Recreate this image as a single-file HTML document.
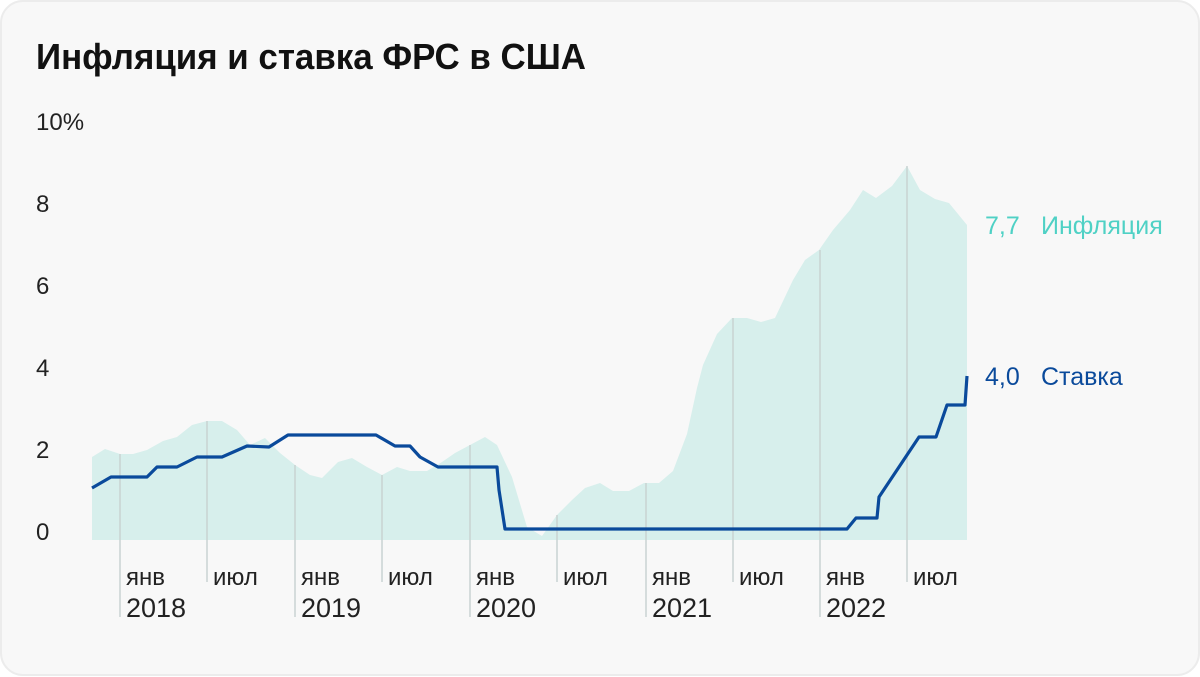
<!DOCTYPE html>
<html><head><meta charset="utf-8"><style>
body{margin:0;width:1200px;height:677px;background:#fff;overflow:hidden}
svg{display:block}
text{font-family:"Liberation Sans",sans-serif}
</style></head><body>
<svg width="1200" height="677" viewBox="0 0 1200 677">
<rect x="1" y="1" width="1198" height="674" rx="22" fill="#f8f8f8" stroke="#ececec" stroke-width="2"/>
<text x="36" y="69" font-size="36" font-weight="bold" fill="#111" textLength="550" lengthAdjust="spacingAndGlyphs">Инфляция и ставка ФРС в США</text>
<g font-size="24" fill="#222">
<text x="36" y="130">10%</text>
<text x="36" y="212">8</text>
<text x="36" y="294">6</text>
<text x="36" y="376">4</text>
<text x="36" y="458">2</text>
<text x="36" y="540">0</text>
</g>
<polygon fill="#d7efec" points="92,457 105,449 120,454 133,454 147,450 163,441 177,437 192,425 207,421 222,421 237,430 250,445 265,438 280,453 295,465 310,475 322,478 338,462 352,458 367,467 382,475 397,467 410,471 427,471 442,462 455,453 470,445 485,437 497,445 512,477 527,527 542,536 557,515 572,500 585,488 600,483 613,491 629,491 644,483 659,483 673,471 687,434 697,388 703,365 717,334 732,318 747,318 761,322 775,318 793,280 805,260 819,250 833,230 850,210 863,190 876,198 892,186 907,166 920,190 935,199 949,203 967,225 967,540 92,540"/>
<g stroke="#c9d3d2" stroke-width="1.5">
<line x1="120" y1="454" x2="120" y2="617"/>
<line x1="207" y1="421" x2="207" y2="582"/>
<line x1="295" y1="465" x2="295" y2="617"/>
<line x1="382" y1="475" x2="382" y2="582"/>
<line x1="470" y1="445" x2="470" y2="617"/>
<line x1="557" y1="515" x2="557" y2="582"/>
<line x1="646" y1="483" x2="646" y2="617"/>
<line x1="733" y1="318" x2="733" y2="582"/>
<line x1="820" y1="250" x2="820" y2="617"/>
<line x1="907" y1="166" x2="907" y2="582"/>
</g>
<polyline fill="none" stroke="#0a4a9b" stroke-width="3.2" stroke-linejoin="round" points="92,488 111,477 147,477 157,467 177,467 197,457 222,457 247,446 269,447 288,435 376,435 395,446 410,446 420,457 438,467 497,467 499,490 505,529 847,529 856,518 877,518 879,497 919,437 936,437 947,405 965,405 967,376"/>
<g font-size="24" fill="#222">
<text x="126" y="585">янв</text><text x="126" y="617" font-size="27">2018</text>
<text x="213" y="585">июл</text>
<text x="301" y="585">янв</text><text x="301" y="617" font-size="27">2019</text>
<text x="388" y="585">июл</text>
<text x="476" y="585">янв</text><text x="476" y="617" font-size="27">2020</text>
<text x="563" y="585">июл</text>
<text x="652" y="585">янв</text><text x="652" y="617" font-size="27">2021</text>
<text x="739" y="585">июл</text>
<text x="826" y="585">янв</text><text x="826" y="617" font-size="27">2022</text>
<text x="913" y="585">июл</text>
</g>
<text x="985" y="234" font-size="25" fill="#4fd1c5">7,7</text>
<text x="1041" y="234" font-size="25" fill="#4fd1c5">Инфляция</text>
<text x="985" y="385" font-size="25" fill="#0a4a9b">4,0</text>
<text x="1041" y="385" font-size="25" fill="#0a4a9b">Ставка</text>
</svg>
</body></html>
